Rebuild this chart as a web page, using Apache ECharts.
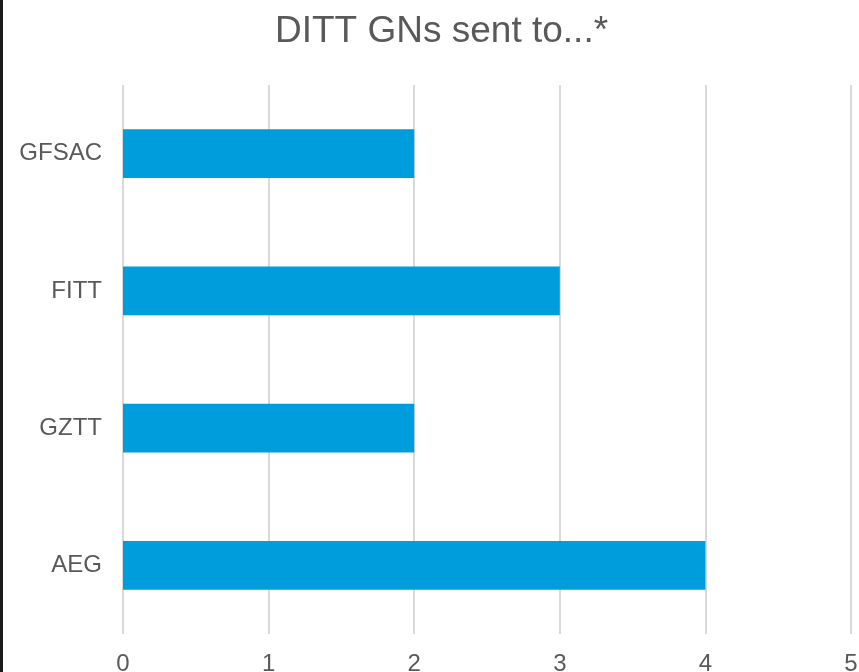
<!DOCTYPE html>
<html>
<head>
<meta charset="utf-8">
<script src="https://cdn.jsdelivr.net/npm/echarts@6/dist/echarts.min.js"></script>
<style>
html,body{margin:0;padding:0;background:#ffffff;}
#chart{width:859px;height:672px;}
</style>
</head>
<body>
<div id="chart"></div>
<script>
const titleText = 'DITT GNs sent to...*';
const categories = ['AEG', 'GZTT', 'FITT', 'GFSAC'];
const values = [4, 2, 3, 2];
const xTicks = [0, 1, 2, 3, 4, 5];

const chart = echarts.init(document.getElementById('chart'), null, {renderer: 'canvas'});
const font = '"Liberation Sans", Arial, sans-serif';
chart.setOption({
  backgroundColor: '#ffffff',
  animation: false,
  title: {
    text: titleText,
    left: 275,
    top: 13,
    padding: 0,
    textStyle: {fontFamily: font, fontSize: 37, fontWeight: 'normal', color: '#595959'}
  },
  grid: {left: 123, right: 8, top: 85, bottom: 38, containLabel: false, outerBoundsMode: 'none'},
  xAxis: {
    type: 'value',
    min: xTicks[0],
    max: xTicks[xTicks.length - 1],
    interval: 1,
    axisLine: {show: false},
    axisTick: {show: false},
    axisLabel: {margin: 18, fontFamily: font, fontSize: 24, color: '#595959'},
    splitLine: {show: true, lineStyle: {color: '#d9d9d9', width: 2}}
  },
  yAxis: {
    type: 'category',
    data: categories,
    axisLine: {show: false},
    axisTick: {show: false},
    axisLabel: {margin: 21, fontFamily: font, fontSize: 24, color: '#595959'},
    splitLine: {show: false}
  },
  series: [{
    type: 'bar',
    data: values,
    barWidth: '35.5%',
    itemStyle: {color: '#009DDC'}
  }],
  graphic: [{
    type: 'rect',
    shape: {x: 0, y: 0, width: 3, height: 672},
    style: {fill: '#1a1a1a'},
    silent: true
  }]
});
</script>
</body>
</html>
